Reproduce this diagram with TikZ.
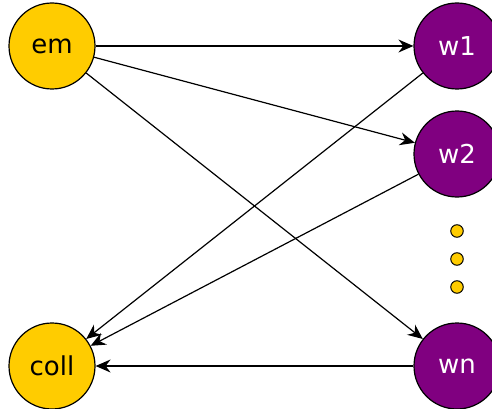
\documentclass[tikz,border=0pt]{standalone}
\usepackage{fontspec}
\setmainfont{DejaVu Sans}
\usetikzlibrary{arrows.meta}
\definecolor{gold}{HTML}{FFCC00}
\definecolor{purp}{HTML}{800080}
\begin{document}
\begin{tikzpicture}[x=1pt,y=-1pt,
  base/.style={circle,draw=black,line width=1.2pt,minimum size=86pt,inner sep=0pt,font=\fontsize{26}{30}\selectfont},
  ynode/.style={base,fill=gold,text=black},
  pnode/.style={base,fill=purp,text=white},
  dotnode/.style={circle,draw=black,line width=1pt,fill=gold,minimum size=12.5pt,inner sep=0pt},
  conn/.style={line width=1.2pt,-{Stealth[length=15pt,width=13pt,inset=5pt]}}]
\useasboundingbox (0,0) rectangle (492,409);
\node[ynode] (em) at (52,46) {em};
\node[ynode] (coll) at (52,366) {coll};
\node[pnode] (w1) at (457,46) {w1};
\node[pnode] (w2) at (457,154) {w2};
\node[pnode] (wn) at (457,366) {wn};
\node[dotnode] (d1) at (457,231) {};
\node[dotnode] (d2) at (457,259) {};
\node[dotnode] (d3) at (457,287) {};
\draw[conn] (em) -- (w1);
\draw[conn] (em) -- (w2);
\draw[conn] (em) -- (wn);
\draw[conn] (w1) -- (coll);
\draw[conn] (w2) -- (coll);
\draw[conn] (wn) -- (coll);
\end{tikzpicture}
\end{document}
